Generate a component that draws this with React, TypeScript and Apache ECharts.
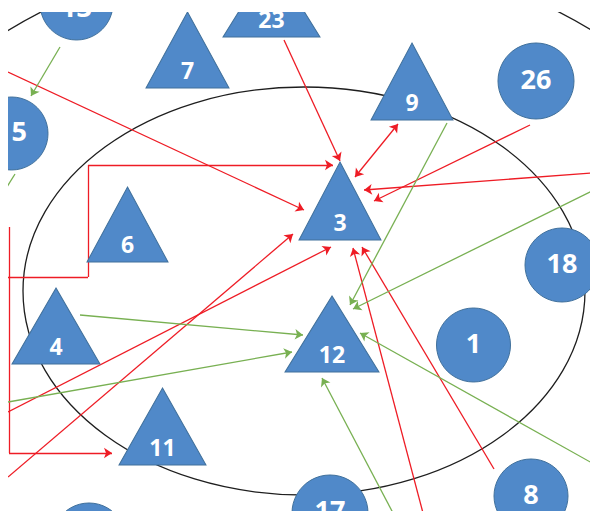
import React, { useEffect, useRef } from 'react';
import * as echarts from 'echarts';

// visible data window (image pixel space used as data space)
const X_RANGE = [8, 590];
const Y_RANGE = [12, 511];

// triangle nodes
const TRI_LABELS = ['23', '7', '9', '3', '6', '4', '12', '11'];
const TRI_X = [271.5, 187.5, 412, 340, 127.5, 56, 332, 162.5];
const TRI_Y = [-2, 50, 81.5, 201, 224.5, 326, 334, 426.5];
const TRI_W = [97, 83, 82, 82, 81, 88, 94, 87];
const TRI_H = [78, 76, 77, 78, 75, 76, 76, 77];

// circle nodes
const CIRCLE_LABELS = ['13', '15', '26', '18', '1', '8', '17', ''];
const CIRCLE_X = [76.5, 11.5, 536, 562, 473.5, 531, 330, 89];
const CIRCLE_Y = [3.5, 133.5, 81, 265, 345, 496, 513, 540];
const CIRCLE_R = [36.5, 36.5, 38, 37, 37, 37, 38, 37];
const CIRCLE_LABEL_SHIFT = [3, -3, -3, -3, -3, -3, -4, -3];

// ellipses: [cx, cy, rx, ry]
const ELLIPSES = [
  [304, 291, 281, 204],
  [300, 374, 500, 423],
];

// red arrows (last point gets the arrow head)
const RED_PATHS: number[][][] = [
  [[8, 72], [304, 210]],
  [[284, 40], [340, 161]],
  [[8, 277], [88, 277], [88, 165], [333, 165]],
  [[9, 227], [9, 453], [112, 453]],
  [[530, 125], [374, 201]],
  [[592, 173], [364, 190]],
  [[8, 412], [331, 247]],
  [[8, 477], [293, 234]],
  [[494, 469], [362, 247]],
  [[423, 513], [353, 248]],
];
const RED_DOUBLE: number[][][] = [[[398, 124], [355, 177]]];

const GREEN_PATHS: number[][][] = [
  [[60, 47], [31, 96]],
  [[447, 123], [350, 305]],
  [[592, 191], [353, 309]],
  [[80, 315], [303, 335]],
  [[8, 402], [292, 352]],
  [[592, 463], [360, 333]],
  [[393, 513], [322, 378]],
];
const GREEN_PLAIN: number[][][] = [[[15, 174], [5, 190]]];

const BLUE = '#5089c9';
const RED = '#ee1c25';
const GREEN = '#78b052';

function splitPaths(paths: number[][][]) {
  const heads: { coords: number[][] }[] = [];
  const bodies: { coords: number[][] }[] = [];
  paths.forEach((p) => {
    for (let i = 0; i < p.length - 1; i++) {
      const seg = { coords: [p[i], p[i + 1]] };
      if (i === p.length - 2) heads.push(seg);
      else bodies.push(seg);
    }
  });
  return { heads, bodies };
}

export default function App() {
  const ref = useRef<HTMLDivElement>(null);
  useEffect(() => {
    if (!ref.current) return;
    const chart = echarts.init(ref.current, undefined, { renderer: 'svg' });
    const red = splitPaths(RED_PATHS);
    const green = splitPaths(GREEN_PATHS);

    const nodes: any[] = [];
    TRI_LABELS.forEach((l, i) => {
      nodes.push({
        name: l,
        value: [TRI_X[i], TRI_Y[i]],
        symbol: 'triangle',
        symbolSize: [TRI_W[i], TRI_H[i]],
        label: { fontSize: 23, offset: [0, TRI_H[i] / 2 - 18] },
      });
    });
    CIRCLE_LABELS.forEach((l, i) => {
      nodes.push({
        name: l,
        value: [CIRCLE_X[i], CIRCLE_Y[i]],
        symbol: 'circle',
        symbolSize: CIRCLE_R[i] * 2,
        label: { fontSize: 27, offset: [0, CIRCLE_LABEL_SHIFT[i]] },
      });
    });

    const lineSeries = (data: any[], color: string, symbol: any) => ({
      type: 'lines',
      coordinateSystem: 'cartesian2d',
      polyline: false,
      clip: false,
      silent: true,
      symbol,
      symbolSize: 8,
      z: 3,
      lineStyle: { color, width: 1.3, opacity: 1, curveness: 0 },
      data,
    });

    chart.setOption({
      animation: false,
      backgroundColor: '#ffffff',
      grid: { left: 0, right: 0, top: 0, bottom: 0 },
      xAxis: { type: 'value', min: X_RANGE[0], max: X_RANGE[1], show: false },
      yAxis: { type: 'value', min: Y_RANGE[0], max: Y_RANGE[1], inverse: true, show: false },
      series: [
        lineSeries(red.heads, RED, ['none', 'arrow']),
        lineSeries(red.bodies, RED, ['none', 'none']),
        lineSeries(RED_DOUBLE.map((c) => ({ coords: c })), RED, ['arrow', 'arrow']),
        lineSeries(green.heads, GREEN, ['none', 'arrow']),
        lineSeries(green.bodies, GREEN, ['none', 'none']),
        lineSeries(GREEN_PLAIN.map((c) => ({ coords: c })), GREEN, ['none', 'none']),
        {
          type: 'scatter',
          clip: false,
          silent: true,
          z: 4,
          itemStyle: { color: BLUE, borderColor: '#41719c', borderWidth: 1, opacity: 1 },
          label: {
            show: true,
            position: 'inside',
            formatter: '{b}',
            color: '#ffffff',
            fontWeight: 'bold',
            fontFamily: 'Open Sans',
          },
          data: nodes,
        },
      ],
    });

    const graphics = ELLIPSES.map(([cx, cy, rx, ry]) => {
      const c = chart.convertToPixel({ xAxisIndex: 0, yAxisIndex: 0 }, [cx, cy]) as number[];
      const e = chart.convertToPixel({ xAxisIndex: 0, yAxisIndex: 0 }, [cx + rx, cy + ry]) as number[];
      return {
        type: 'ellipse',
        silent: true,
        z: 0,
        shape: { cx: c[0], cy: c[1], rx: Math.abs(e[0] - c[0]), ry: Math.abs(e[1] - c[1]) },
        style: { fill: 'none', stroke: '#1e1e1e', lineWidth: 1.3 },
      };
    });
    chart.setOption({ graphic: graphics });

    return () => chart.dispose();
  }, []);

  return (
    <div
      ref={ref}
      style={{
        position: 'absolute',
        left: X_RANGE[0],
        top: Y_RANGE[0],
        width: X_RANGE[1] - X_RANGE[0],
        height: Y_RANGE[1] - Y_RANGE[0],
        overflow: 'hidden',
      }}
    />
  );
}
